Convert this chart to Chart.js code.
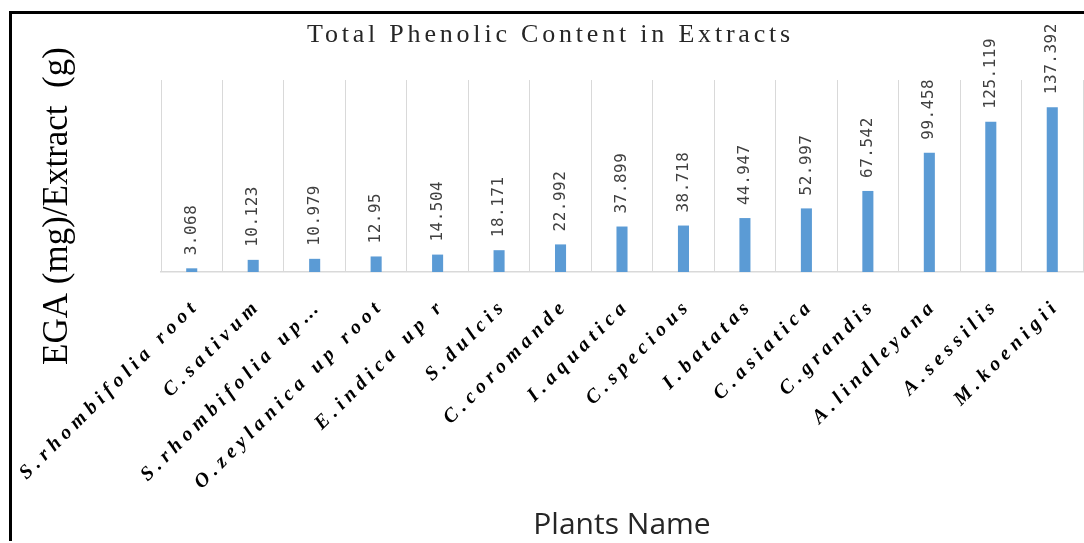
<!DOCTYPE html>
<html>
<head>
<meta charset="utf-8">
<script src="https://cdn.jsdelivr.net/npm/chart.js"></script>
<style>
  html, body { margin: 0; padding: 0; background: #fff; }
  #wrap { position: absolute; left: 0; top: 0; width: 1084px; height: 543px; overflow: hidden; }
  #frame { position: absolute; left: 9px; top: 11px; width: 1100px; height: 527px;
           border-left: 3px solid #000; border-top: 3px solid #000; pointer-events: none; }
  #chartBox { position: absolute; left: 0; top: 0; width: 1084px; height: 543px; }
</style>
</head>
<body>
<div id="wrap">
  <div id="chartBox"><canvas id="tpcChart"></canvas></div>
  <div id="frame"></div>
</div>
<script>
// plant extracts and their phenolic content
const plantNames = [
  'S.rhombifolia root', 'C.sativum', 'S.rhombifolia up\u2026', 'O.zeylanica up root',
  'E.indica up r', 'S.dulcis', 'C.coromande', 'I.aquatica', 'C.specious',
  'I.batatas', 'C.asiatica', 'C.grandis', 'A.lindleyana', 'A.sessilis', 'M.koenigii'
];
const phenolicValues = [
  3.068, 10.123, 10.979, 12.95, 14.504, 18.171, 22.992, 37.899, 38.718,
  44.947, 52.997, 67.542, 99.458, 125.119, 137.392
];
const yRange = [0, 160];

const TITLE_SPACING = '3.8px';
const TICK_SPACING = '5.2px';
const Y_TITLE_SHIFT = 30;

// category axis with spaced-out tick labels
class SpacedCategoryScale extends Chart.CategoryScale {
  static id = 'spacedCategory';
  drawLabels(chartArea) {
    this.ctx.save();
    this.ctx.letterSpacing = TICK_SPACING;
    super.drawLabels(chartArea);
    this.ctx.restore();
  }
  drawTitle() {
    this.ctx.save();
    this.ctx.letterSpacing = '0px';
    super.drawTitle();
    this.ctx.restore();
  }
}

// linear axis whose title sits a bit lower than the plot centre
class ShiftedTitleScale extends Chart.LinearScale {
  static id = 'shiftedLinear';
  drawTitle() {
    this.ctx.save();
    this.ctx.letterSpacing = '0px';
    this.ctx.translate(0, Y_TITLE_SHIFT);
    super.drawTitle();
    this.ctx.restore();
  }
}
Chart.register(SpacedCategoryScale, ShiftedTitleScale);

const spacingPlugin = {
  id: 'titleSpacing',
  beforeDraw(chart) { chart.ctx.letterSpacing = TITLE_SPACING; },
  afterDraw(chart) { chart.ctx.letterSpacing = '0px'; }
};

// vertical value labels above each bar
const valueLabels = {
  id: 'valueLabels',
  afterDatasetsDraw(chart) {
    const ctx = chart.ctx;
    const meta = chart.getDatasetMeta(0);
    ctx.save();
    ctx.letterSpacing = '0.5px';
    ctx.font = '16px "DejaVu Sans Mono"';
    ctx.fillStyle = '#404040';
    ctx.textAlign = 'left';
    ctx.textBaseline = 'middle';
    meta.data.forEach((bar, i) => {
      ctx.save();
      ctx.translate(bar.x, bar.y - 13);
      ctx.rotate(-Math.PI / 2);
      ctx.fillText(String(phenolicValues[i]), 0, 0);
      ctx.restore();
    });
    ctx.restore();
  }
};

new Chart(document.getElementById('tpcChart'), {
  type: 'bar',
  data: {
    labels: plantNames,
    datasets: [{
      data: phenolicValues,
      backgroundColor: '#5B9BD5',
      barPercentage: 0.18,
      categoryPercentage: 1
    }]
  },
  options: {
    responsive: true,
    maintainAspectRatio: false,
    animation: false,
    layout: { padding: { left: 18, right: 1, top: 0, bottom: 0 } },
    plugins: {
      legend: { display: false },
      tooltip: { enabled: false },
      title: {
        display: true,
        text: 'Total Phenolic Content in Extracts',
        color: '#262626',
        font: { family: '"Liberation Serif", serif', size: 26, weight: 'normal', lineHeight: 1.2 },
        padding: { top: 19.5, bottom: 29.3 }
      }
    },
    scales: {
      x: {
        type: 'spacedCategory',
        offset: true,
        grid: { display: true, offset: true, color: '#D9D9D9', lineWidth: 1, drawTicks: false },
        border: { display: true, color: '#D9D9D9', width: 1.5 },
        ticks: {
          autoSkip: false,
          maxRotation: 45,
          minRotation: 45,
          padding: 22,
          labelOffset: 5,
          color: '#000',
          font: { family: '"Liberation Serif", serif', size: 20, style: 'italic', weight: 'bold' }
        },
        title: {
          display: true,
          text: 'Plants Name',
          color: '#262626',
          font: { family: '"Open Sans", sans-serif', size: 30, lineHeight: 1.2 },
          padding: { top: 0, bottom: 0 }
        },
        afterFit(scale) {
          scale.height = 271;
          scale.paddingLeft = 0;
          scale.paddingRight = 0;
        }
      },
      y: {
        type: 'shiftedLinear',
        min: yRange[0],
        max: yRange[1],
        grid: { display: false },
        border: { display: false },
        ticks: { display: false },
        title: {
          display: true,
          text: 'EGA (mg)/Extract  (g)',
          color: '#000',
          font: { family: '"Liberation Serif", serif', size: 35, lineHeight: 1.2 },
          padding: { top: 19, bottom: 0 }
        },
        afterFit(scale) { scale.width = 143; }
      }
    }
  },
  plugins: [spacingPlugin, valueLabels]
});
</script>
</body>
</html>
